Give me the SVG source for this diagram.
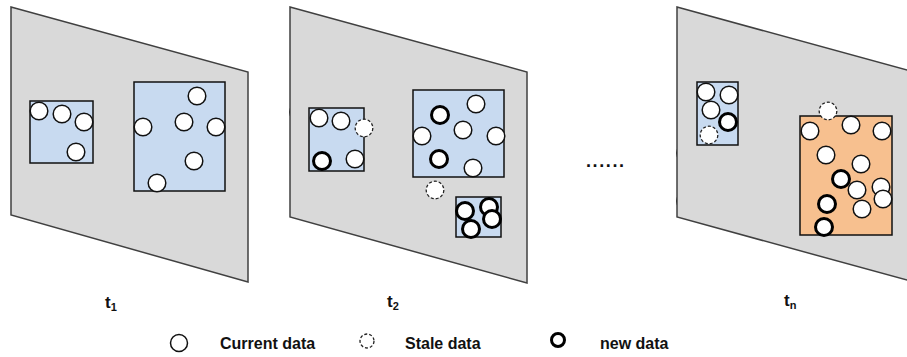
<svg xmlns="http://www.w3.org/2000/svg" width="907" height="357" viewBox="0 0 907 357">
  <style>
    .plane { fill: #d9d9d9; stroke: #404040; stroke-width: 1.5; stroke-linejoin: miter; }
    .region { fill: #c8daf0; stroke: #111; stroke-width: 1.5; }
    .region.hot { fill: #f7c08f; }
    .cur { fill: #fff; stroke: #111; stroke-width: 1.5; }
    .stale { fill: #fff; stroke: #222; stroke-width: 1.3; stroke-dasharray: 3 2; }
    .new { fill: #fff; stroke: #000; stroke-width: 3; }
    .lbl { font-family: "Liberation Sans", Arial, sans-serif; font-weight: bold; fill: #111; }
  </style>

  <!-- snapshot t1 -->
  <g id="snapshot-t1">
    <polygon class="plane" points="11,7 248,72 248,282 11,215"/>
    <g id="t1-cluster-a">
      <rect class="region" x="30" y="101" width="63" height="62"/>
      <circle class="cur" cx="39" cy="111" r="8.8"/>
      <circle class="cur" cx="62" cy="114" r="8.8"/>
      <circle class="cur" cx="84" cy="122" r="8.8"/>
      <circle class="cur" cx="76" cy="152" r="8.8"/>
    </g>
    <g id="t1-cluster-b">
      <rect class="region" x="134" y="82" width="91" height="109"/>
      <circle class="cur" cx="197" cy="96" r="8.8"/>
      <circle class="cur" cx="184" cy="122" r="8.8"/>
      <circle class="cur" cx="143" cy="127" r="8.8"/>
      <circle class="cur" cx="216" cy="127" r="8.8"/>
      <circle class="cur" cx="194" cy="161" r="8.8"/>
      <circle class="cur" cx="157" cy="183" r="8.8"/>
    </g>
  </g>

  <!-- snapshot t2 -->
  <g id="snapshot-t2">
    <circle class="new" cx="299" cy="112" r="8.5"/>
    <polygon class="plane" points="290,7 527,72 527,283 290,217"/>
    <g id="t2-cluster-a">
      <rect class="region" x="309" y="108" width="55" height="63"/>
      <circle class="cur" cx="319" cy="118" r="8.8"/>
      <circle class="cur" cx="341" cy="121" r="8.8"/>
      <circle class="stale" cx="364" cy="128" r="8.8"/>
      <circle class="new" cx="322" cy="161" r="8.5"/>
      <circle class="cur" cx="355" cy="159" r="8.8"/>
    </g>
    <g id="t2-cluster-b">
      <rect class="region" x="413" y="90" width="91" height="87"/>
      <circle class="cur" cx="476" cy="104" r="8.8"/>
      <circle class="new" cx="440" cy="115" r="8.5"/>
      <circle class="cur" cx="463" cy="130" r="8.8"/>
      <circle class="cur" cx="422" cy="136" r="8.8"/>
      <circle class="cur" cx="496" cy="136" r="8.8"/>
      <circle class="new" cx="439" cy="159" r="8.5"/>
      <circle class="cur" cx="473" cy="168" r="8.8"/>
    </g>
    <circle class="stale" cx="435" cy="190" r="8.8"/>
    <g id="t2-cluster-c">
      <rect class="region" x="456" y="197" width="45" height="40"/>
      <circle class="new" cx="465" cy="211" r="8.5"/>
      <circle class="new" cx="489" cy="207" r="8.5"/>
      <circle class="new" cx="492" cy="219" r="8.5"/>
      <circle class="new" cx="471" cy="229" r="8.5"/>
    </g>
  </g>

  <!-- ellipsis between snapshots -->
  <text class="lbl" x="586" y="167" font-size="18" letter-spacing="1.6">......</text>

  <!-- snapshot tn -->
  <g id="snapshot-tn">
    <circle class="new" cx="686" cy="153" r="8.5"/>
    <circle class="new" cx="686" cy="201" r="8.5"/>
    <polygon class="plane" points="677,7 914,72 914,282 677,217"/>
    <g id="tn-cluster-a">
      <rect class="region" x="697" y="82" width="41" height="63"/>
      <circle class="cur" cx="706" cy="92" r="8.8"/>
      <circle class="cur" cx="729" cy="95" r="8.8"/>
      <circle class="cur" cx="711" cy="110" r="8.8"/>
      <circle class="new" cx="728" cy="122" r="8.5"/>
      <circle class="stale" cx="709" cy="135" r="8.8"/>
    </g>
    <g id="tn-cluster-b">
      <rect class="region hot" x="800" y="116" width="92" height="119"/>
      <circle class="stale" cx="828" cy="111" r="8.8"/>
      <circle class="cur" cx="810" cy="131" r="8.8"/>
      <circle class="cur" cx="851" cy="125" r="8.8"/>
      <circle class="cur" cx="882" cy="131" r="8.8"/>
      <circle class="cur" cx="826" cy="155" r="8.8"/>
      <circle class="cur" cx="861" cy="164" r="8.8"/>
      <circle class="cur" cx="857" cy="190" r="8.8"/>
      <circle class="new" cx="841" cy="179" r="8.5"/>
      <circle class="cur" cx="881" cy="187" r="8.8"/>
      <circle class="cur" cx="883" cy="199" r="8.8"/>
      <circle class="new" cx="827" cy="204" r="8.5"/>
      <circle class="cur" cx="862" cy="209" r="8.8"/>
      <circle class="new" cx="824" cy="227" r="8.5"/>
    </g>
  </g>

  <!-- time labels -->
  <g id="time-labels">
    <text class="lbl" x="105" y="308" font-size="17">t<tspan dy="3" font-size="11">1</tspan></text>
    <text class="lbl" x="387" y="307" font-size="17">t<tspan dy="3" font-size="11">2</tspan></text>
    <text class="lbl" x="784" y="306" font-size="17">t<tspan dy="3" font-size="11">n</tspan></text>
  </g>

  <!-- legend -->
  <g id="legend">
    <g id="legend-current">
      <circle class="cur" cx="179" cy="343" r="8.5"/>
      <text class="lbl" x="220" y="349" font-size="16">Current data</text>
    </g>
    <g id="legend-stale">
      <circle class="stale" cx="367" cy="341" r="7"/>
      <text class="lbl" x="405" y="349" font-size="16">Stale data</text>
    </g>
    <g id="legend-new">
      <circle class="new" cx="558" cy="340" r="6.5"/>
      <text class="lbl" x="600" y="349" font-size="16">new data</text>
    </g>
  </g>
</svg>
